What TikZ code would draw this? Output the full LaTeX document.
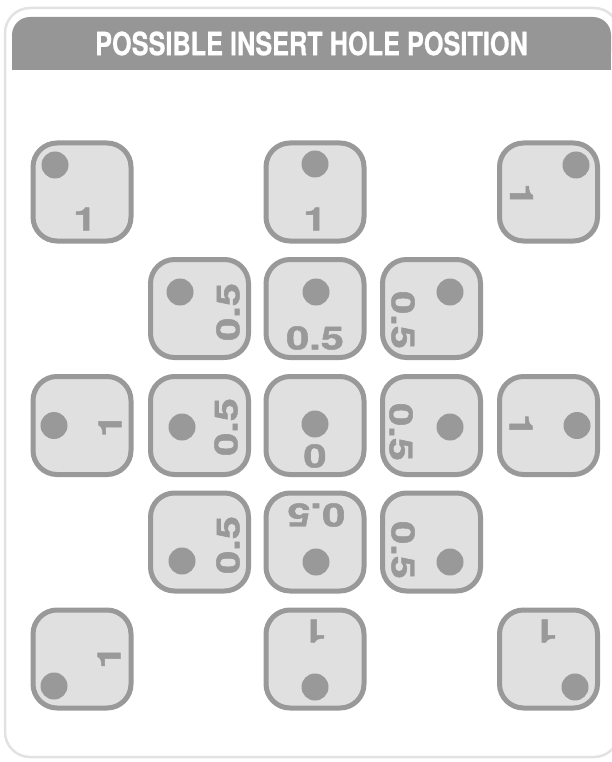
\documentclass[tikz,border=0pt]{standalone}
\usepackage{fontspec}
\setmainfont{TeX Gyre Heros}
\newfontfamily\heavy{texgyreheros-bold.otf}[FakeBold=0.6]
\newfontfamily\heavier{texgyreheros-bold.otf}[FakeBold=1.4]
\definecolor{hdrgrey}{HTML}{969696}
\definecolor{tline}{HTML}{999999}
\definecolor{tfill}{HTML}{E0E0E0}
\definecolor{framegrey}{HTML}{E2E2E2}
\newcommand\stretchnum[1]{\scalebox{1.3}[1]{#1}}
\begin{document}
\begin{tikzpicture}[x=1pt,y=-1pt,
  tile/.style={draw=tline, fill=tfill, line width=5pt, rounded corners=24pt,
    minimum width=98pt, minimum height=98pt, inner sep=0pt},
  hole/.style={circle, fill=tline, minimum size=27pt, inner sep=0pt},
  num/.style={text=tline, inner sep=0pt, font=\heavier\fontsize{32}{32}\selectfont}]
\useasboundingbox (0,0) rectangle (612,762);
\begin{scope}
  \clip (0,0) rectangle (612,762);
  \draw[line width=2.5pt, draw=framegrey, rounded corners=25pt] (5,8) rectangle (619,757);
  \fill[hdrgrey, rounded corners=18pt] (12,17) rectangle (611,70);
  \fill[hdrgrey] (12,45) rectangle (611,70);
\end{scope}
\node[text=white, inner sep=0pt, font=\heavy\fontsize{32}{32}\selectfont] (title) at (311.5,43.5)
  {\scalebox{0.79}[1]{POSSIBLE INSERT HOLE POSITION}};

% row 1
\node[tile] (t11) at (82,192) {};
\node[hole] (d11) at (55,165) {};
\node[num] (n11) at (85,219) {\stretchnum{1}};
\node[tile] (t13) at (315,192) {};
\node[hole] (d13) at (315,164) {};
\node[num] (n13) at (315,219) {\stretchnum{1}};
\node[tile] (t15) at (548.5,192) {};
\node[hole] (d15) at (576,165) {};
\node[num, rotate=-90] (n15) at (521.5,195) {\stretchnum{1}};

% row 2
\node[tile] (t22) at (199.5,308.5) {};
\node[hole] (d22) at (180,292) {};
\node[num, rotate=90] (n22) at (228,312) {\stretchnum{0.5}};
\node[tile] (t23) at (315,308.5) {};
\node[hole] (d23) at (316,292) {};
\node[num] (n23) at (315,338) {\stretchnum{0.5}};
\node[tile] (t24) at (431.5,308.5) {};
\node[hole] (d24) at (450,292) {};
\node[num, rotate=-90] (n24) at (403,320) {\stretchnum{0.5}};

% row 3
\node[tile] (t31) at (82,425.5) {};
\node[hole] (d31) at (54,425.5) {};
\node[num, rotate=90] (n31) at (110,425.5) {\stretchnum{1}};
\node[tile] (t32) at (199.5,425.5) {};
\node[hole] (d32) at (182,427) {};
\node[num, rotate=90] (n32) at (226,427) {\stretchnum{0.5}};
\node[tile] (t33) at (315,425.5) {};
\node[hole] (d33) at (315,424) {};
\node[num] (n33) at (315,456) {\stretchnum{0}};
\node[tile] (t34) at (431.5,425.5) {};
\node[hole] (d34) at (450,427) {};
\node[num, rotate=-90] (n34) at (401,432) {\stretchnum{0.5}};
\node[tile] (t35) at (548.5,425.5) {};
\node[hole] (d35) at (577,425.5) {};
\node[num, rotate=-90] (n35) at (521,425.5) {\stretchnum{1}};

% row 4
\node[tile] (t42) at (199.5,542) {};
\node[hole] (d42) at (182,561) {};
\node[num, rotate=90] (n42) at (228,545) {\stretchnum{0.5}};
\node[tile] (t43) at (315,542) {};
\node[hole] (d43) at (316,562) {};
\node[num, rotate=180] (n43) at (316,515) {\stretchnum{0.5}};
\node[tile] (t44) at (431.5,542) {};
\node[hole] (d44) at (450,562) {};
\node[num, rotate=-90] (n44) at (403,550) {\stretchnum{0.5}};

% row 5
\node[tile] (t51) at (82,659) {};
\node[hole] (d51) at (54,686) {};
\node[num, rotate=90] (n51) at (109,657) {\stretchnum{1}};
\node[tile] (t53) at (315,659) {};
\node[hole] (d53) at (315,687) {};
\node[num, rotate=180] (n53) at (315,631) {\stretchnum{1}};
\node[tile] (t55) at (548.5,659) {};
\node[hole] (d55) at (575,687) {};
\node[num, rotate=180] (n55) at (546,631) {\stretchnum{1}};
\end{tikzpicture}
\end{document}
